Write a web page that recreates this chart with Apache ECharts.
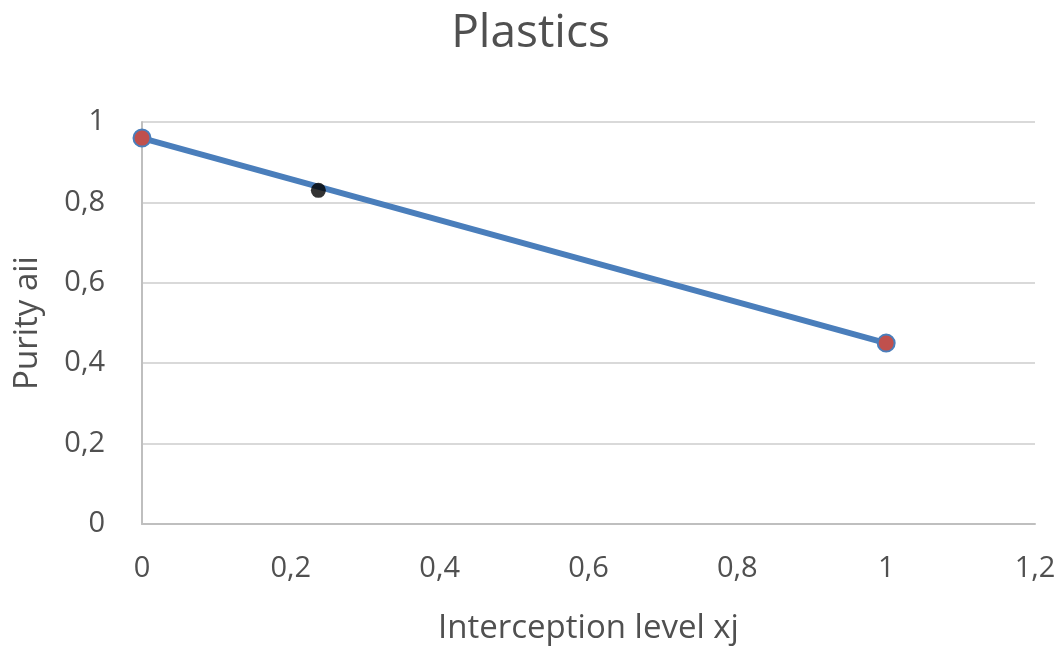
<!DOCTYPE html>
<html>
<head>
<meta charset="utf-8">
<script src="https://cdn.jsdelivr.net/npm/echarts@6/dist/echarts.min.js"></script>
<style>
html,body{margin:0;padding:0;background:#fff;}
#chart{width:1061px;height:650px;}
</style>
</head>
<body>
<div id="chart"></div>
<script>
var lineX = [0, 1];
var lineY = [0.96, 0.45];
var pointX = [0.237];
var pointY = [0.83];
var xTicks = [0, 0.2, 0.4, 0.6, 0.8, 1, 1.2];
var yTicks = [0, 0.2, 0.4, 0.6, 0.8, 1];

function fmt(v){ return String(Math.round(v*10)/10).replace('.', ','); }

var chart = echarts.init(document.getElementById('chart'));
var font = '"Open Sans", sans-serif';
var txt = '#505050';
chart.setOption({
  animation: false,
  backgroundColor: '#fff',
  title: {
    text: 'Plastics',
    left: 'center',
    top: 6,
    textStyle: {fontFamily: font, fontSize: 46, fontWeight: 'normal', color: txt}
  },
  grid: {left: 142, right: 26, top: 122, bottom: 125},
  xAxis: {
    type: 'value',
    min: 0, max: 1.2, interval: 0.2,
    name: 'Interception level xj',
    nameLocation: 'middle',
    nameGap: 88,
    nameTextStyle: {fontFamily: font, fontSize: 33, color: txt},
    axisLine: {show: true, lineStyle: {color: '#bfbfbf', width: 2}},
    axisTick: {show: false},
    splitLine: {show: false},
    axisLabel: {fontFamily: font, fontSize: 29, color: txt, margin: 30, formatter: fmt}
  },
  yAxis: {
    type: 'value',
    min: 0, max: 1, interval: 0.2,
    name: 'Purity aii',
    nameLocation: 'middle',
    nameGap: 98,
    nameTextStyle: {fontFamily: font, fontSize: 33, color: txt},
    axisLine: {show: true, lineStyle: {color: '#bfbfbf', width: 2}},
    axisTick: {show: false},
    splitLine: {show: true, lineStyle: {color: '#d9d9d9', width: 2}},
    axisLabel: {fontFamily: font, fontSize: 29, color: txt, margin: 37, formatter: fmt}
  },
  series: [
    {
      type: 'line',
      data: lineX.map(function(x, i){ return [x, lineY[i]]; }),
      symbol: 'circle',
      symbolSize: 17,
      lineStyle: {color: '#4a7ebb', width: 6},
      itemStyle: {color: '#c0504d', borderColor: '#4a7ebb', borderWidth: 2},
      z: 2
    },
    {
      type: 'scatter',
      data: pointX.map(function(x, i){ return [x, pointY[i]]; }),
      symbol: 'circle',
      symbolSize: 15,
      itemStyle: {color: '#000'},
      z: 3
    }
  ]
});
</script>
</body>
</html>
